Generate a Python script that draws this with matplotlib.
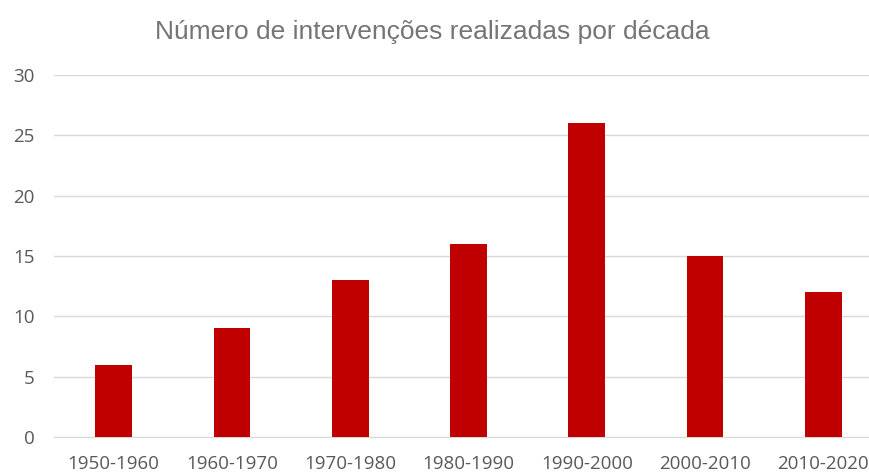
import matplotlib.pyplot as plt

decades = ["1950-1960", "1960-1970", "1970-1980", "1980-1990",
           "1990-2000", "2000-2010", "2010-2020"]
counts = [6, 9, 13, 16, 26, 15, 12]
yticks = [0, 5, 10, 15, 20, 25, 30]

fig = plt.figure(figsize=(8.70, 4.73), dpi=100)
ax = fig.add_axes([54.5 / 870, 36 / 473, 828 / 870, 362 / 473])

x = list(range(len(decades)))
ax.bar(x, counts, width=0.31, color="#C00000", zorder=3)

ax.set_xlim(-0.5, len(decades) - 0.5)
ax.set_ylim(0, 30)
ax.set_yticks(yticks)
ax.set_xticks(x)
ax.set_xticklabels(decades)

ax.grid(axis="y", color="#D9D9D9", linewidth=1, zorder=0)
for s in ["top", "right", "left"]:
    ax.spines[s].set_visible(False)
ax.spines["bottom"].set_color("#D9D9D9")
ax.tick_params(length=0, labelsize=13.5, labelcolor="#595959")
ax.tick_params(axis="y", pad=14.5)
ax.tick_params(axis="x", pad=13)
for lab in ax.get_xticklabels() + ax.get_yticklabels():
    lab.set_family("Open Sans")

fig.text(432 / 870, 1 - 32 / 473, "Número de intervenções realizadas por década",
         ha="center", va="center", fontsize=19, color="#757575",
         family="Liberation Sans")

fig.savefig("out.png", dpi=100)
